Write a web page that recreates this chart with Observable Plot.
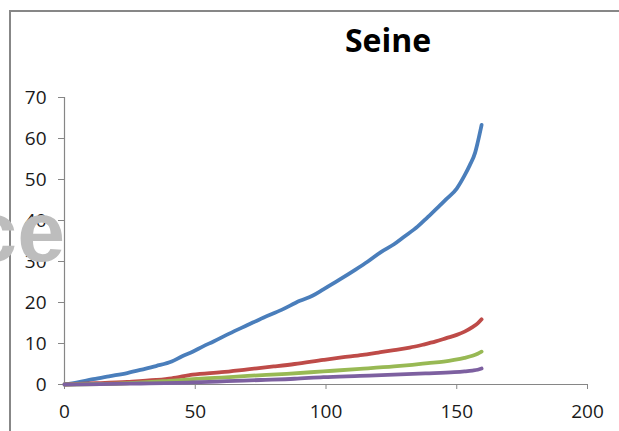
<!DOCTYPE html>
<html>
<head>
<meta charset="utf-8">
<script src="https://cdn.jsdelivr.net/npm/d3@7"></script>
<script src="https://cdn.jsdelivr.net/npm/@observablehq/plot@0.6"></script>
<style>
  html, body { margin: 0; padding: 0; background: #fff; }
  #wrap { position: relative; width: 619px; height: 431px; overflow: hidden; font-family: "Open Sans", sans-serif; }
  #frame { position: absolute; left: 9px; top: 10px; width: 640px; height: 460px; border-top: 2px solid #878787; border-left: 2px solid #878787; box-sizing: border-box; }
  #title { position: absolute; left: 0; width: 776px; top: 24px; text-align: center; font-family: "Open Sans", sans-serif; font-weight: 700; font-size: 32px; color: #000; line-height: 1; }
  #chart { position: absolute; left: 0; top: 0; }
  #chart svg text { font-size: 19px; font-family: "Open Sans", sans-serif; }
  #wm { position: absolute; right: 554px; top: 188px; font-family: "Liberation Sans", Arial, sans-serif; font-weight: 700; font-size: 86px; color: #bdbdbd; line-height: 1; white-space: nowrap; }
</style>
</head>
<body>
<div id="wrap">
  <div id="frame"></div>
  <div id="chart"></div>
  <div id="title">Seine</div>
  <div id="wm">ce</div>
</div>
<script>
// Series readings (x, value)
const blueX   = [0, 5, 11, 17, 24, 30, 35, 41, 45, 49, 53, 57, 63, 70, 76, 83, 90, 95, 99, 105, 111, 116, 121, 126, 130, 135, 139, 143, 146, 150, 153, 155, 157, 158, 159.5];
const blueY   = [0, 0.5, 1.3, 2.0, 2.8, 3.7, 4.5, 5.6, 6.9, 8.0, 9.3, 10.5, 12.4, 14.5, 16.3, 18.2, 20.4, 21.7, 23.2, 25.5, 27.9, 30.0, 32.3, 34.2, 36.1, 38.5, 40.9, 43.3, 45.2, 47.8, 51.0, 53.5, 56.5, 59.0, 63.3];

const redX    = [0, 12, 24, 35, 41, 49, 60, 70, 80, 88, 99, 106, 114, 120, 126, 132, 137, 142, 146, 150, 153, 156, 158, 159.5];
const redY    = [0, 0.3, 0.65, 1.1, 1.5, 2.4, 3.0, 3.7, 4.4, 5.0, 6.0, 6.6, 7.2, 7.8, 8.4, 9.0, 9.7, 10.5, 11.3, 12.1, 12.9, 14.0, 14.9, 15.9];

const greenX  = [0, 24, 40, 49, 60, 70, 85, 99, 113, 126, 133, 139, 145, 149, 153, 156, 158, 159.5];
const greenY  = [0, 0.3, 0.9, 1.3, 1.7, 2.1, 2.6, 3.2, 3.8, 4.4, 4.8, 5.2, 5.6, 6.0, 6.5, 7.0, 7.5, 8.0];

const purpleX = [0, 25, 49, 62, 75, 88, 99, 113, 126, 138, 149, 153, 156, 158, 159.5];
const purpleY = [0, 0.2, 0.5, 0.8, 1.1, 1.4, 1.8, 2.1, 2.4, 2.7, 3.0, 3.2, 3.4, 3.6, 3.9];

const seriesNames  = ["Series 1", "Series 2", "Series 3", "Series 4"];
const seriesColors = ["#4a7ebb", "#be4b48", "#98b954", "#7d60a0"];

const xTicks = [0, 50, 100, 150, 200];
const yTicks = [0, 10, 20, 30, 40, 50, 60, 70];

const rows = [];
[[blueX, blueY], [redX, redY], [greenX, greenY], [purpleX, purpleY]].forEach(([xs, ys], i) => {
  xs.forEach((x, j) => rows.push({series: seriesNames[i], x, y: ys[j]}));
});

const axisColor = "#868686";

const plot = Plot.plot({
  width: 619,
  height: 431,
  marginLeft: 64,
  marginRight: 32,
  marginTop: 97,
  marginBottom: 47,
  style: { fontFamily: "Open Sans, sans-serif", fontSize: "18px", color: "#1a1a1a", background: "transparent", overflow: "visible" },
  x: { domain: [0, 200] },
  y: { domain: [0, 70] },
  color: { type: "ordinal", domain: seriesNames, range: seriesColors },
  marks: [
    Plot.ruleX([0], { y1: 0, y2: 70, stroke: axisColor, strokeWidth: 1.2 }),
    Plot.ruleY([0], { x1: 0, x2: 200, stroke: axisColor, strokeWidth: 1.2 }),
    Plot.axisY(yTicks, { ticks: yTicks, tickSize: 6, tickPadding: 12, stroke: axisColor, fill: "#1a1a1a", label: null, tickFormat: d => String(d) }),
    Plot.axisX(xTicks, { ticks: xTicks, tickSize: 5, tickPadding: 15, stroke: axisColor, fill: "#1a1a1a", label: null, tickFormat: d => String(d) }),
    Plot.line(rows, { x: "x", y: "y", z: "series", stroke: "series", strokeWidth: 3.8, curve: "monotone-x", strokeLinecap: "round", strokeLinejoin: "round" })
  ]
});
document.getElementById("chart").appendChild(plot);
</script>
</body>
</html>
